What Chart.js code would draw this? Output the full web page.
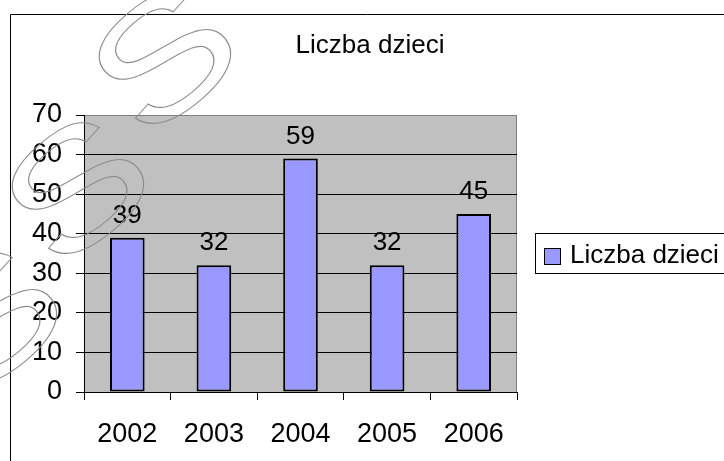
<!DOCTYPE html>
<html>
<head>
<meta charset="utf-8">
<script src="https://cdn.jsdelivr.net/npm/chart.js@4.4.1/dist/chart.umd.min.js"></script>
<style>
  html, body { margin: 0; padding: 0; background: #fff; }
  #wrap { width: 724px; height: 461px; }
</style>
</head>
<body>
<div id="wrap"><canvas id="dzieciChart" width="724" height="461"></canvas></div>
<script>
const chartTitle = 'Liczba dzieci';
const seriesName = 'Liczba dzieci';
const categories = ['2002', '2003', '2004', '2005', '2006'];
const values = [39, 32, 59, 32, 45];
const yMin = 0;
const yMax = 70;
const yStep = 10;

const FONT = '"Liberation Sans", Arial, sans-serif';
const barColor = '#9999ff';

// szare tlo obszaru wykresu, ramka, tytul, legenda, etykiety, znak wodny
const excelLook = {
    id: 'excelLook',
    beforeDraw(chart) {
        const { ctx, chartArea: a } = chart;
        ctx.save();
        ctx.fillStyle = '#fff';
        ctx.fillRect(0, 0, chart.width, chart.height);
        ctx.fillStyle = '#c0c0c0';
        ctx.fillRect(a.left, a.top, a.right - a.left, a.bottom - a.top);
        ctx.strokeStyle = '#808080';
        ctx.lineWidth = 1;
        ctx.beginPath();
        ctx.moveTo(Math.round(a.right) - 0.5, a.top);
        ctx.lineTo(Math.round(a.right) - 0.5, a.bottom);
        ctx.stroke();

        // ramka wykresu
        ctx.strokeStyle = '#000';
        ctx.beginPath();
        ctx.moveTo(10.5, chart.height);
        ctx.lineTo(10.5, 14.5);
        ctx.lineTo(chart.width, 14.5);
        ctx.stroke();

        // tytul
        ctx.fillStyle = '#000';
        ctx.font = '26px ' + FONT;
        ctx.textAlign = 'center';
        ctx.textBaseline = 'alphabetic';
        ctx.fillText(chartTitle, 370, 53);

        // legenda
        ctx.strokeRect(535.5, 233.5, 200, 40);
        ctx.fillStyle = barColor;
        ctx.fillRect(544.5, 248.5, 16, 16);
        ctx.strokeRect(544.5, 248.5, 16, 16);
        ctx.fillStyle = '#000';
        ctx.textAlign = 'left';
        ctx.fillText(seriesName, 570, 263);
        ctx.restore();
    },
    afterDatasetsDraw(chart) {
        const { ctx } = chart;
        const meta = chart.getDatasetMeta(0);
        ctx.save();
        ctx.fillStyle = '#000';
        ctx.font = '26px ' + FONT;
        ctx.textAlign = 'center';
        ctx.textBaseline = 'alphabetic';
        meta.data.forEach((bar, i) => {
            ctx.fillText(String(values[i]), bar.x, bar.y - 15);
        });
        ctx.restore();
    },
    afterDraw(chart) {
        // znak wodny - obrysowane litery po przekatnej
        const { ctx } = chart;
        ctx.save();
        ctx.strokeStyle = '#8c8c8c';
        ctx.lineWidth = 1;
        ctx.font = '160px ' + FONT;
        ctx.textAlign = 'center';
        ctx.textBaseline = 'middle';
        for (let k = -1; k <= 2; k++) {
            ctx.save();
            ctx.translate(78 + k * 87, 190 - k * 130);
            ctx.rotate(-40 * Math.PI / 180);
            ctx.scale(1.3, 1);
            ctx.strokeText('S', 0, 8);
            ctx.restore();
        }
        ctx.restore();
    }
};

new Chart(document.getElementById('dzieciChart'), {
    type: 'bar',
    data: {
        labels: categories,
        datasets: [{
            label: seriesName,
            data: values,
            backgroundColor: barColor,
            borderColor: '#000',
            borderWidth: 2,
            borderSkipped: false,
            barPercentage: 0.4,
            categoryPercentage: 1
        }]
    },
    options: {
        responsive: false,
        animation: false,
        layout: { padding: { left: 0, top: 115, right: 207, bottom: 0 } },
        plugins: {
            legend: { display: false },
            title: { display: false },
            tooltip: { enabled: false }
        },
        scales: {
            x: {
                grid: {
                    offset: true,
                    drawOnChartArea: false,
                    drawTicks: true,
                    tickLength: 8,
                    color: '#000'
                },
                border: { display: true, color: '#000', width: 1 },
                ticks: {
                    color: '#000',
                    font: { family: FONT, size: 27 },
                    padding: 18,
                    maxRotation: 0
                },
                afterFit(scale) { scale.height = 69; }
            },
            y: {
                min: yMin,
                max: yMax,
                ticks: {
                    stepSize: yStep,
                    color: '#000',
                    font: { family: FONT, size: 27 },
                    padding: 14
                },
                grid: {
                    color: (c) => (c.tick && c.tick.value === yMax) ? '#808080' : '#000',
                    tickColor: '#000',
                    tickLength: 8
                },
                border: { display: true, color: '#000', width: 1 },
                afterFit(scale) { scale.width = 84; }
            }
        }
    },
    plugins: [excelLook]
});
</script>
</body>
</html>
